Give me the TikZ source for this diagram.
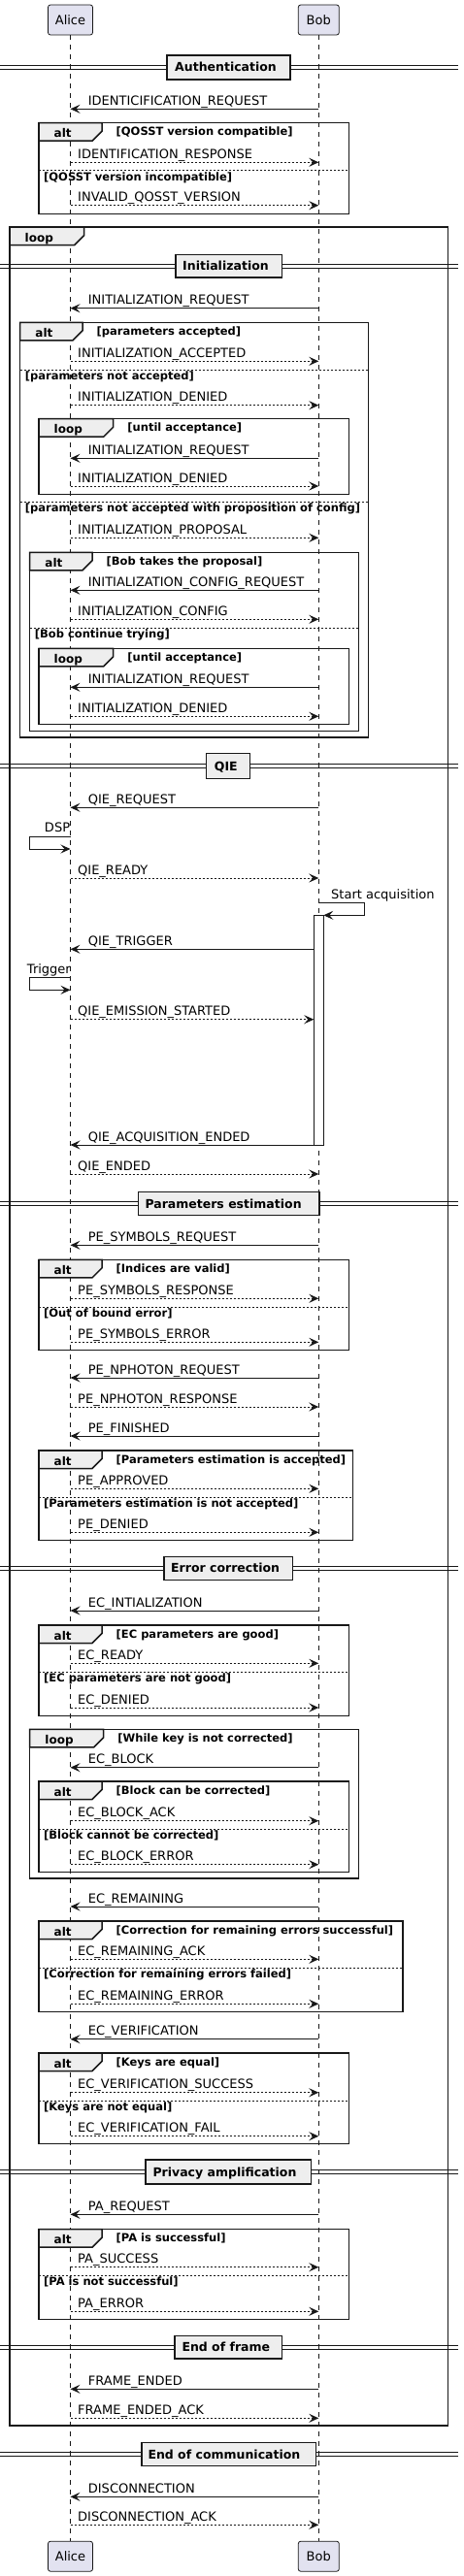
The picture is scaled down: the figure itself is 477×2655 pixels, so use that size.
\documentclass[tikz,border=0pt]{standalone}
\usepackage{fontspec}
\setmainfont{DejaVu Sans}
\usetikzlibrary{arrows.meta}
\definecolor{lncol}{HTML}{181818}
\definecolor{partfill}{HTML}{E2E2F0}
\definecolor{tabfill}{HTML}{EEEEEE}
\newcounter{nodec}
\tikzset{
  msglbl/.style={font=\fontsize{13}{15}\selectfont, inner sep=0pt, anchor=base west, text=black},
  part/.style={draw=lncol, fill=partfill, line width=0.8pt, rounded corners=2.5pt, minimum height=31pt, inner sep=0pt, font=\fontsize{13}{15}\selectfont},
  lifeline/.style={draw=lncol, line width=0.6pt, dash pattern=on 5pt off 5pt},
  reqline/.style={draw=lncol, line width=1pt, -{Stealth[length=10pt,width=9pt,inset=4pt]}},
  respline/.style={draw=lncol, line width=1pt, dash pattern=on 2pt off 2pt, -{Stealth[length=10pt,width=9pt,inset=4pt]}},
  frameline/.style={draw=lncol, line width=1.5pt},
  divline/.style={draw=lncol, line width=1pt, dash pattern=on 2pt off 2pt},
  kindlbl/.style={font=\bfseries\fontsize{12}{14}\selectfont, inner sep=0pt, anchor=base west},
  guardlbl/.style={font=\bfseries\fontsize{11.5}{13}\selectfont, inner sep=0pt, anchor=base west},
  sepline/.style={draw=lncol, line width=1pt},
  sepbox/.style={draw=lncol, fill=tabfill, line width=1.5pt},
  seplbl/.style={font=\bfseries\fontsize{12.5}{14}\selectfont, inner sep=0pt, anchor=base west},
  actbox/.style={draw=lncol, fill=white, line width=1pt, inner sep=0pt, outer sep=0pt},
}
% Bob -> Alice (solid)
\newcommand\msgBA[2]{\stepcounter{nodec}%
  \draw[reqline] (bob |- 0,#1) -- (alice |- 0,#1);
  \node[msglbl] (m\arabic{nodec}) at (90.7,{#1-4}) {#2};}
% Alice -> Bob (dashed)
\newcommand\msgAB[2]{\stepcounter{nodec}%
  \draw[respline] (alice |- 0,#1) -- (bob |- 0,#1);
  \node[msglbl] (m\arabic{nodec}) at (80,{#1-4}) {#2};}
% frame: x0 y0 x1 y1 tabw kind guard
\newcommand\sqframe[7]{\stepcounter{nodec}%
  \draw[frameline] (#1,#2) rectangle (#3,#4);
  \draw[frameline, fill=tabfill] (#1,#2) -- ({#1+#5},#2) -- ({#1+#5},{#2+8.5}) -- ({#1+#5-10},{#2+18.5}) -- (#1,{#2+18.5}) -- cycle;
  \node[kindlbl] (k\arabic{nodec}) at ({#1+15.5},{#2+15}) {#6};
  \node[guardlbl] (g\arabic{nodec}) at ({#1+#5+14.5},{#2+13}) {#7};}
% else divider: x0 x1 y guard
\newcommand\sqelse[4]{\stepcounter{nodec}%
  \draw[divline] (#1,#3) -- (#2,#3);
  \node[guardlbl] (e\arabic{nodec}) at ({#1+5},{#3+10.5}) {#4};}
% separator: x0 x1 ytop ybot textx text
\newcommand\sqsep[6]{\stepcounter{nodec}%
  \draw[sepline] (0,{(#3+#4)/2-2}) -- (472,{(#3+#4)/2-2});
  \draw[sepline] (0,{(#3+#4)/2+2}) -- (472,{(#3+#4)/2+2});
  \draw[sepbox] (#1,#3) rectangle (#2,#4);
  \node[seplbl] (s\arabic{nodec}) at (#5,{(#3+#4)/2+4.5}) {#6};}
\begin{document}
\begin{tikzpicture}[x=1pt,y=-1pt]
\useasboundingbox[fill=white] (0,0) rectangle (477,2655);
% participants
\node[part, minimum width=46pt] (alice) at (72.5,20.5) {Alice};
\node[part, minimum width=42pt] (bob) at (328.3,20.5) {Bob};
\node[part, minimum width=46pt] (alice2) at (72.5,2634.7) {Alice};
\node[part, minimum width=42pt] (bob2) at (328.3,2634.7) {Bob};
\draw[lifeline] (alice) -- (alice2);
\draw[lifeline] (bob) -- (bob2);

% ---------- Authentication
\sqsep{172}{299}{57}{82}{180}{Authentication}
\msgBA{112.3}{IDENTICIFICATION\_REQUEST}
\sqframe{40}{126.7}{359.3}{220.7}{65}{alt}{[QOSST version compatible]}
\msgAB{167.3}{IDENTIFICATION\_RESPONSE}
\sqelse{40}{359.3}{175.7}{[QOSST version incompatible]}
\msgAB{211.7}{INVALID\_QOSST\_VERSION}

% ---------- outer loop
\sqframe{10}{234}{461.7}{2500}{76.7}{loop}{}

% ---------- Initialization
\sqsep{181}{290.7}{262.3}{286}{188}{Initialization}
\msgBA{317.7}{INITIALIZATION\_REQUEST}
\sqframe{20.7}{332.3}{379.3}{760}{64.3}{alt}{[parameters accepted]}
\msgAB{372.3}{INITIALIZATION\_ACCEPTED}
\sqelse{20.7}{379.3}{381}{[parameters not accepted]}
\msgAB{417.7}{INITIALIZATION\_DENIED}
\sqframe{40}{431.7}{359.3}{509.3}{76.7}{loop}{[until acceptance]}
\msgBA{472.3}{INITIALIZATION\_REQUEST}
\msgAB{501}{INITIALIZATION\_DENIED}
\sqelse{20.7}{379.3}{517.3}{[parameters not accepted with proposition of config]}
\msgAB{554.3}{INITIALIZATION\_PROPOSAL}
\sqframe{30.7}{569.3}{369.3}{753.3}{64.3}{alt}{[Bob takes the proposal]}
\msgBA{608.3}{INITIALIZATION\_CONFIG\_REQUEST}
\msgAB{638.3}{INITIALIZATION\_CONFIG}
\sqelse{30.7}{369.3}{647.3}{[Bob continue trying]}
\sqframe{40}{668.3}{359.3}{746.7}{76.7}{loop}{[until acceptance]}
\msgBA{708.3}{INITIALIZATION\_REQUEST}
\msgAB{738.3}{INITIALIZATION\_DENIED}

% ---------- QIE
\sqsep{212.7}{257.7}{776.7}{802.3}{220.7}{QIE}
\msgBA{832.3}{QIE\_REQUEST}
\draw[reqline] (alice |- 0,862.3) -- (30,862.3) -- (30,875) -- (alice |- 0,875);
\node[msglbl, anchor=base east] (dsp) at (72.3,857.8) {DSP};
\msgAB{905}{QIE\_READY}
\node[actbox, minimum width=10pt, minimum height=236.7pt, anchor=north] (act) at (328.3,943.3) {};
\draw[reqline] (bob |- 0,930.7) -- (375.7,930.7) -- (375.7,943.3) -- (act.east |- 0,943.3);
\node[msglbl] (startacq) at (341,926.5) {Start acquisition};
\draw[reqline] (act.west |- 0,978.3) -- (alice |- 0,978.3);
\node[msglbl] (qtrig) at (90.7,974.3) {QIE\_TRIGGER};
\draw[reqline] (alice |- 0,1007.3) -- (30,1007.3) -- (30,1020.3) -- (alice |- 0,1020.3);
\node[msglbl, anchor=base east] (trig) at (73,1003) {Trigger};
\draw[respline] (alice |- 0,1050.7) -- (act.west |- 0,1050.7);
\node[msglbl] (qemis) at (80,1046.7) {QIE\_EMISSION\_STARTED};
\draw[reqline] (act.west |- 0,1180) -- (alice |- 0,1180);
\node[msglbl] (qacq) at (90.7,1176) {QIE\_ACQUISITION\_ENDED};
\msgAB{1210}{QIE\_ENDED}

% ---------- Parameters estimation
\sqsep{142.7}{329}{1228.3}{1252.7}{149.3}{Parameters estimation}
\msgBA{1283.3}{PE\_SYMBOLS\_REQUEST}
\sqframe{40}{1298.3}{359.3}{1391.7}{65}{alt}{[Indices are valid]}
\msgAB{1338.3}{PE\_SYMBOLS\_RESPONSE}
\sqelse{40}{359.3}{1347.3}{[Out of bound error]}
\msgAB{1383.3}{PE\_SYMBOLS\_ERROR}
\msgBA{1420}{PE\_NPHOTON\_REQUEST}
\msgAB{1450}{PE\_NPHOTON\_RESPONSE}
\msgBA{1480}{PE\_FINISHED}
\sqframe{40}{1495}{363.3}{1587.3}{65}{alt}{[Parameters estimation is accepted]}
\msgAB{1534.3}{PE\_APPROVED}
\sqelse{40}{363.3}{1543.3}{[Parameters estimation is not accepted]}
\msgAB{1579.3}{PE\_DENIED}

% ---------- Error correction
\sqsep{169}{301.7}{1604.3}{1628.3}{176}{Error correction}
\msgBA{1660}{EC\_INTIALIZATION}
\sqframe{40}{1675}{359.3}{1768.3}{65}{alt}{[EC parameters are good]}
\msgAB{1714.3}{EC\_READY}
\sqelse{40}{359.3}{1723.3}{[EC parameters are not good]}
\msgAB{1760}{EC\_DENIED}
\sqframe{30.7}{1782.3}{369.3}{1936}{76}{loop}{[While key is not corrected]}
\msgBA{1821.7}{EC\_BLOCK}
\sqframe{40}{1836}{359.3}{1929.3}{65}{alt}{[Block can be corrected]}
\msgAB{1876.7}{EC\_BLOCK\_ACK}
\sqelse{40}{359.3}{1885.3}{[Block cannot be corrected]}
\msgAB{1921.7}{EC\_BLOCK\_ERROR}
\msgBA{1965}{EC\_REMAINING}
\sqframe{40}{1980}{415}{2073.3}{65}{alt}{[Correction for remaining errors successful]}
\msgAB{2019.3}{EC\_REMAINING\_ACK}
\sqelse{40}{415}{2028.3}{[Correction for remaining errors failed]}
\msgAB{2065.3}{EC\_REMAINING\_ERROR}
\msgBA{2101.7}{EC\_VERIFICATION}
\sqframe{40}{2116}{359.3}{2209.3}{65}{alt}{[Keys are equal]}
\msgAB{2156.7}{EC\_VERIFICATION\_SUCCESS}
\sqelse{40}{359.3}{2165.3}{[Keys are not equal]}
\msgAB{2201.7}{EC\_VERIFICATION\_FAIL}

% ---------- Privacy amplification
\sqsep{150}{320.7}{2226}{2251}{157.3}{Privacy amplification}
\msgBA{2282.3}{PA\_REQUEST}
\sqframe{40}{2297.7}{359.3}{2390.7}{65}{alt}{[PA is successful]}
\msgAB{2336.7}{PA\_SUCCESS}
\sqelse{40}{359.3}{2345.3}{[PA is not successful]}
\msgAB{2382.3}{PA\_ERROR}

% ---------- End of frame
\sqsep{180}{290.7}{2407.3}{2431}{187.3}{End of frame}
\msgBA{2462.3}{FRAME\_ENDED}
\msgAB{2492.3}{FRAME\_ENDED\_ACK}

% ---------- End of communication
\sqsep{146}{325.7}{2517.3}{2541.7}{152.3}{End of communication}
\msgBA{2573.3}{DISCONNECTION}
\msgAB{2602.3}{DISCONNECTION\_ACK}
\end{tikzpicture}
\end{document}
